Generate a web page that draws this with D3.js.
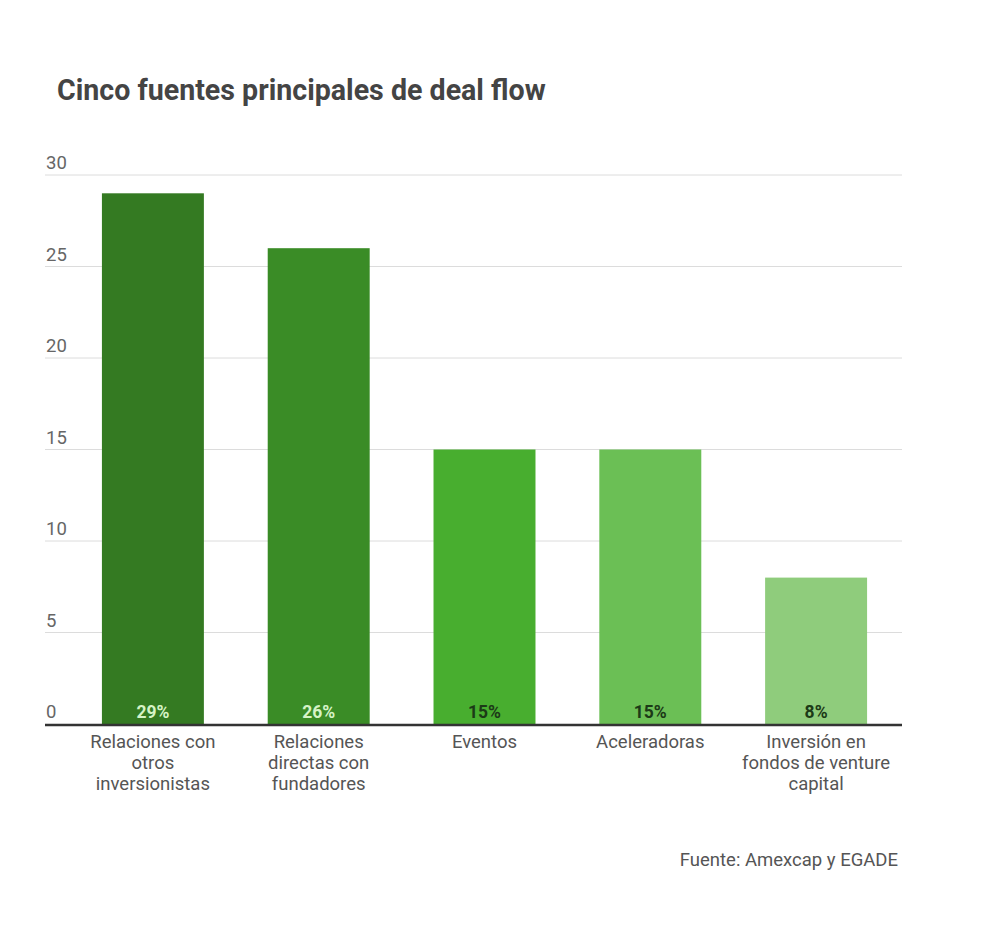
<!DOCTYPE html>
<html lang="es">
<head>
    <meta charset="UTF-8">
    <title>Cinco fuentes principales de deal flow</title>
    <script src="https://cdn.jsdelivr.net/npm/d3@7"></script>
    <style>
        body { margin: 0; background: #fff; font-family: Roboto, "Noto Sans", sans-serif; }
    </style>
</head>
<body>
    <div id="chart"></div>
    <script>
        // datos
        const categories = [
            ["Relaciones con", "otros", "inversionistas"],
            ["Relaciones", "directas con", "fundadores"],
            ["Eventos"],
            ["Aceleradoras"],
            ["Inversión en", "fondos de venture", "capital"]
        ];
        const values = [29, 26, 15, 15, 8];
        const valueLabels = ["29%", "26%", "15%", "15%", "8%"];
        const yTicks = [0, 5, 10, 15, 20, 25, 30];
        const barColors = ["#347a22", "#3a8c26", "#48ae2f", "#6bbf55", "#8fcc7c"];
        const labelColors = ["#d6f3c6", "#d6f3c6", "#1c3a17", "#1c3a17", "#1c3a17"];

        const W = 1000, H = 948;
        const svg = d3.select("#chart").append("svg")
            .attr("width", W)
            .attr("height", H);

        // escalas
        const gridLeft = 45, gridRight = 902;
        const x = d3.scaleBand()
            .domain(d3.range(values.length))
            .range([70, 899])
            .paddingInner(0.385)
            .paddingOuter(0.1925);

        const y = d3.scaleLinear()
            .domain([0, 30])
            .range([724, 175]);

        // titulo
        svg.append("text")
            .attr("x", 57)
            .attr("y", 100)
            .attr("fill", "#444")
            .style("font-size", "28.6px")
            .style("font-weight", "bold")
            .text("Cinco fuentes principales de deal flow");

        // lineas de cuadricula
        svg.selectAll(".grid")
            .data(yTicks.filter(d => d > 0))
            .enter().append("line")
            .attr("x1", gridLeft)
            .attr("x2", gridRight)
            .attr("y1", d => y(d))
            .attr("y2", d => y(d))
            .attr("stroke", "#dcdcdc")
            .attr("stroke-width", 1);

        svg.selectAll(".ytick")
            .data(yTicks)
            .enter().append("text")
            .attr("x", 46)
            .attr("y", d => y(d) - 6)
            .attr("fill", "#666")
            .style("font-size", "18.5px")
            .text(d => d);

        // barras
        svg.selectAll(".bar")
            .data(values)
            .enter().append("rect")
            .attr("x", (d, i) => x(i))
            .attr("width", x.bandwidth())
            .attr("y", d => y(d))
            .attr("height", d => y(0) - y(d))
            .attr("fill", (d, i) => barColors[i]);

        svg.selectAll(".val")
            .data(values)
            .enter().append("text")
            .attr("x", (d, i) => x(i) + x.bandwidth() / 2)
            .attr("y", y(0) - 6)
            .attr("text-anchor", "middle")
            .attr("fill", (d, i) => labelColors[i])
            .style("font-size", "17.5px")
            .style("font-weight", "bold")
            .text((d, i) => valueLabels[i]);

        // eje base
        svg.append("line")
            .attr("x1", gridLeft)
            .attr("x2", gridRight)
            .attr("y1", y(0) + 1)
            .attr("y2", y(0) + 1)
            .attr("stroke", "#333")
            .attr("stroke-width", 2.5);

        // etiquetas de categoria
        const cat = svg.selectAll(".cat")
            .data(categories)
            .enter().append("text")
            .attr("text-anchor", "middle")
            .attr("fill", "#555")
            .style("font-size", "18.5px");
        cat.selectAll("tspan")
            .data((d, i) => d.map(t => ({ t, i })))
            .enter().append("tspan")
            .attr("x", d => x(d.i) + x.bandwidth() / 2)
            .attr("y", (d, j) => 748 + j * 21)
            .text(d => d.t);

        // fuente
        svg.append("text")
            .attr("x", 898)
            .attr("y", 866)
            .attr("text-anchor", "end")
            .attr("fill", "#555")
            .style("font-size", "18.5px")
            .text("Fuente: Amexcap y EGADE");
    </script>
</body>
</html>
